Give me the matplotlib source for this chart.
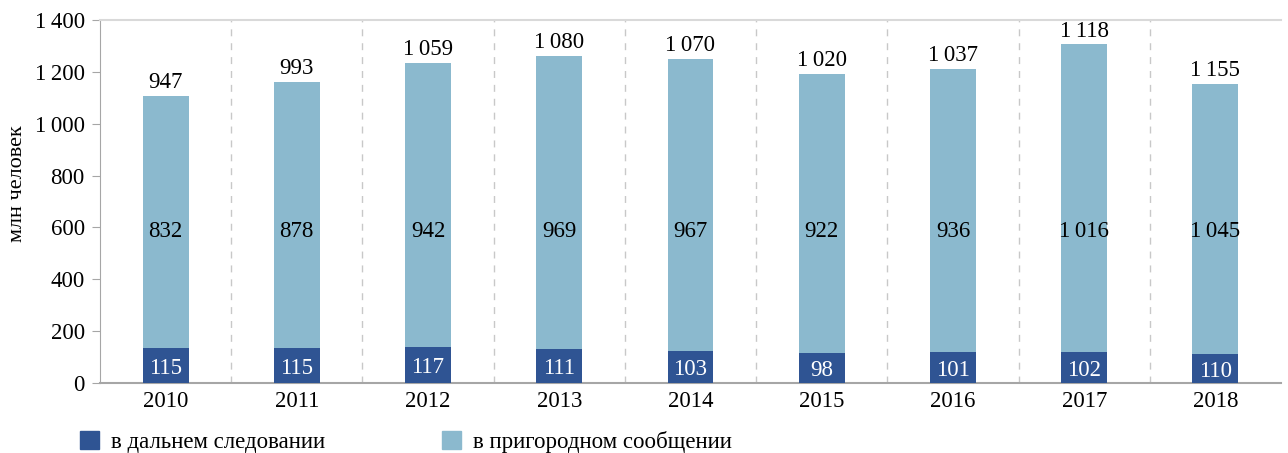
import matplotlib
matplotlib.use("Agg")
import matplotlib.pyplot as plt
from matplotlib.patches import Patch
import numpy as np

years = ["2010", "2011", "2012", "2013", "2014", "2015", "2016", "2017", "2018"]

# bar heights as they sit on the picture's axis
long_dist = [134, 134, 138, 130, 122, 115, 118, 118, 111]
bar_total = [1107, 1161, 1234, 1261, 1250, 1192, 1211, 1307, 1153]
suburban = [t - d for t, d in zip(bar_total, long_dist)]

# numbers printed on the chart
long_lbl = [115, 115, 117, 111, 103, 98, 101, 102, 110]
sub_lbl = [832, 878, 942, 969, 967, 922, 936, 1016, 1045]
total_lbl = [947, 993, 1059, 1080, 1070, 1020, 1037, 1118, 1155]

DARK = "#2F5493"
LIGHT = "#8BB9CE"
GRAY = "#A6A6A6"
FS = 16.5

plt.rcParams['font.family'] = ['Liberation Serif', 'DejaVu Serif']


def fmt(v):
    s = f"{v:,}".replace(",", "\u2009")
    return s


fig = plt.figure(figsize=(12.88, 4.53), dpi=100)
ax = fig.add_axes([0.0776, 0.1545, 0.9170, 0.8013])

x = np.arange(len(years))
w = 0.35
ax.bar(x, long_dist, w, color=DARK, zorder=3)
ax.bar(x, suburban, w, bottom=long_dist, color=LIGHT, zorder=3)

for i in range(len(years)):
    ax.text(x[i], long_dist[i] / 2 - 10, fmt(long_lbl[i]), ha="center", va="center",
            color="white", fontsize=FS, zorder=4)
    ax.text(x[i], 585, fmt(sub_lbl[i]), ha="center", va="center",
            color="black", fontsize=FS, zorder=4)
    ax.text(x[i], bar_total[i] + 10, fmt(total_lbl[i]), ha="center", va="bottom",
            color="black", fontsize=FS, zorder=4)

for b in x[:-1] + 0.5:
    ax.axvline(b, color="#C8C8C8", lw=1, ls=(0, (5, 5)), zorder=1)

ax.set_xlim(-0.5, len(years) - 0.5)
ax.set_ylim(0, 1400)
ax.set_yticks(np.arange(0, 1401, 200))
ax.set_yticklabels([fmt(v) for v in range(0, 1401, 200)], fontsize=FS)
ax.set_xticks(x)
ax.set_xticklabels(years, fontsize=FS)
ax.tick_params(axis="x", length=0, pad=6)
ax.tick_params(axis="y", length=6, color=GRAY, pad=5)

ax.spines["left"].set_color(GRAY)
ax.spines["bottom"].set_color(GRAY)
ax.spines["bottom"].set_linewidth(1.5)
ax.spines["top"].set_color("#D9D9D9")
ax.spines["top"].set_linewidth(1.5)
ax.spines["right"].set_visible(False)

ax.set_ylabel("млн человек", fontsize=16)
ax.yaxis.set_label_coords(-0.062, 0.55)

handles = [Patch(color=DARK, label="в дальнем следовании"),
           Patch(color=LIGHT, label="в пригородном сообщении")]
fig.legend(handles=handles, loc="lower left", bbox_to_anchor=(0.046, -0.045),
           ncol=2, frameon=False, fontsize=FS, handlelength=0.85, handleheight=0.85,
           handletextpad=0.5, columnspacing=5.1)

fig.savefig("out.png", dpi=100)
